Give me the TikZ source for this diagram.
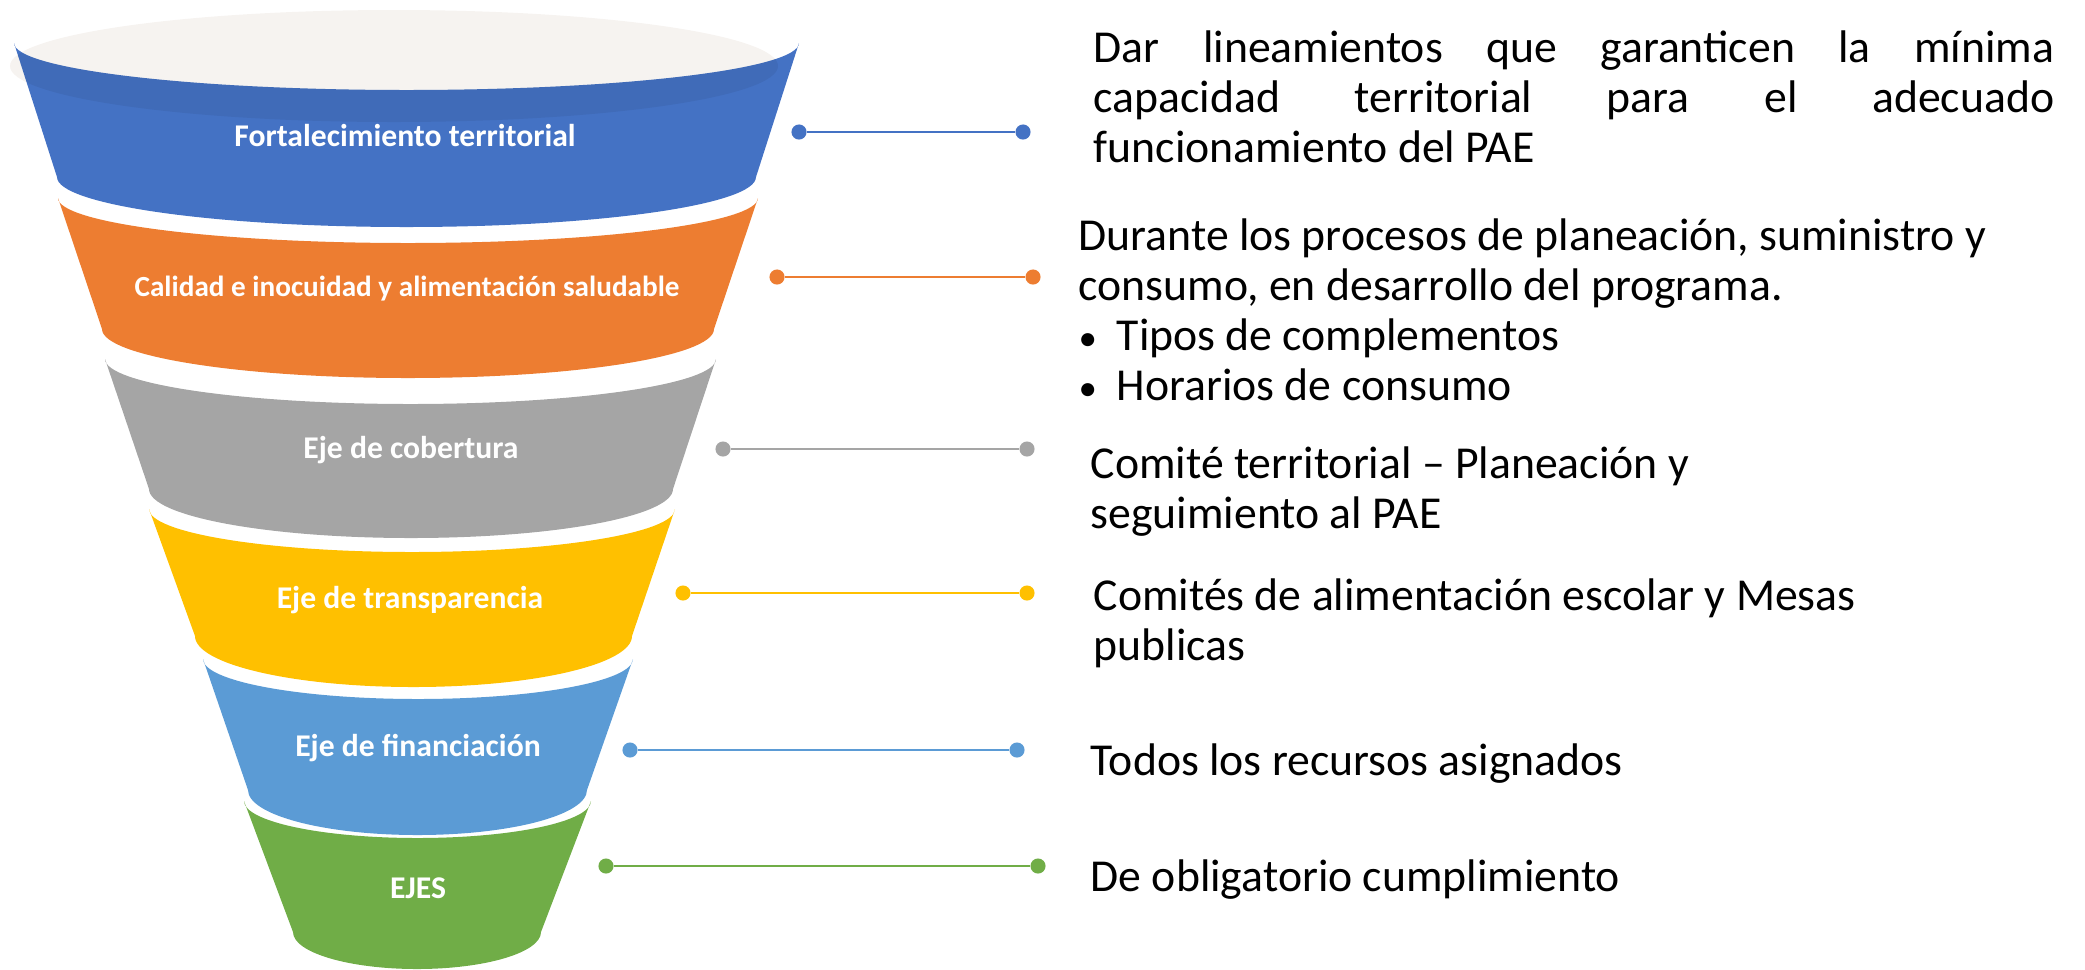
\documentclass[tikz,border=0pt]{standalone}
\usepackage{fontspec}
\setmainfont{Carlito}
\newfontfamily\notefont{Carlito}
\usepackage{tikz}
\definecolor{ejeazul}{HTML}{4472C4}
\definecolor{ejenaranja}{HTML}{ED7D31}
\definecolor{ejegris}{HTML}{A5A5A5}
\definecolor{ejeamarillo}{HTML}{FFC000}
\definecolor{ejecielo}{HTML}{5B9BD5}
\definecolor{ejeverde}{HTML}{70AD47}
\definecolor{ejecrema}{HTML}{F6F3F0}
\newcommand{\notebullet}{\makebox[0.38cm][l]{\fontsize{10.5}{10}\selectfont •}}

\begin{document}
\begin{tikzpicture}[x=0.01cm,y=-0.01cm,
  band label/.style={text=white,font=\fontsize{9}{11}\selectfont\bfseries},
  enddot/.style={circle,fill=#1,inner sep=0pt,minimum size=4.3pt},
  link/.style={#1,line width=0.7pt},
  notetext/.style={anchor=north west,inner sep=0pt,align=left,font=\notefont\fontsize{13}{14.2}\selectfont}]
\useasboundingbox (0,0) rectangle (2085,969);
\fill [ejecrema] (394,66) ellipse [x radius=384, y radius=56];
\fill [ejeazul] (14,43) -- (57,177) arc [start angle=180, end angle=0, x radius=349.5, y radius=50] -- (799,43) arc [start angle=0, end angle=180, x radius=392.5, y radius=47] -- cycle;
\begin{scope}
\clip (394,66) ellipse [x radius=384, y radius=56];
\fill [black, opacity=0.06] (14,43) -- (57,177) arc [start angle=180, end angle=0, x radius=349.5, y radius=50] -- (799,43) arc [start angle=0, end angle=180, x radius=392.5, y radius=47] -- cycle;
\end{scope}
\fill [ejenaranja] (58,198) -- (102,329) arc [start angle=180, end angle=0, x radius=306, y radius=49] -- (758,198) arc [start angle=0, end angle=180, x radius=350, y radius=45] -- cycle;
\fill [ejegris] (105,359) -- (149,489) arc [start angle=180, end angle=0, x radius=262, y radius=49] -- (716,359) arc [start angle=0, end angle=180, x radius=305.5, y radius=45] -- cycle;
\fill [ejeamarillo] (149,509) -- (195,636) arc [start angle=180, end angle=0, x radius=218.5, y radius=51] -- (675,509) arc [start angle=0, end angle=180, x radius=263, y radius=43] -- cycle;
\fill [ejecielo] (203,659) -- (248,790) arc [start angle=180, end angle=0, x radius=169.5, y radius=45] -- (633,659) arc [start angle=0, end angle=180, x radius=215, y radius=40] -- cycle;
\fill [ejeverde] (244,801) -- (293,932) arc [start angle=180, end angle=0, x radius=124, y radius=37] -- (591,801) arc [start angle=0, end angle=180, x radius=173.5, y radius=37] -- cycle;
\node [band label] (fortalecimiento) at (405,136) {Fortalecimiento territorial};
\node [band label, font=\fontsize{8.3}{10}\selectfont\bfseries] (calidad) at (407,289) {Calidad e inocuidad y alimentación saludable};
\node [band label] (cobertura) at (411,450) {Eje de cobertura};
\node [band label] (transparencia) at (410,600) {Eje de transparencia};
\node [band label] (financiacion) at (418,748) {Eje de financiación};
\node [band label] (ejes) at (418,888) {EJES};
\node [enddot=ejeazul] (a1) at (799,132) {};
\node [enddot=ejeazul] (b1) at (1023,132) {};
\draw [link=ejeazul] (a1) -- (b1);
\node [enddot=ejenaranja] (a2) at (777,277) {};
\node [enddot=ejenaranja] (b2) at (1033,277) {};
\draw [link=ejenaranja] (a2) -- (b2);
\node [enddot=ejegris] (a3) at (723,449) {};
\node [enddot=ejegris] (b3) at (1027,449) {};
\draw [link=ejegris] (a3) -- (b3);
\node [enddot=ejeamarillo] (a4) at (683,593) {};
\node [enddot=ejeamarillo] (b4) at (1027,593) {};
\draw [link=ejeamarillo] (a4) -- (b4);
\node [enddot=ejecielo] (a5) at (630,750) {};
\node [enddot=ejecielo] (b5) at (1017,750) {};
\draw [link=ejecielo] (a5) -- (b5);
\node [enddot=ejeverde] (a6) at (606,866) {};
\node [enddot=ejeverde] (b6) at (1038,866) {};
\draw [link=ejeverde] (a6) -- (b6);
\node [notetext] (lineamientos) at (1093,30) {\makebox[9.6cm][s]{Dar lineamientos que garanticen la mínima}\\ \makebox[9.6cm][s]{capacidad territorial para el adecuado}\\ funcionamiento del PAE};
\node [notetext] (procesos) at (1078,218) {Durante los procesos de planeación, suministro y\\ consumo, en desarrollo del programa.\\ \notebullet Tipos de complementos\\ \notebullet Horarios de consumo};
\node [notetext] (comite) at (1090,446) {Comité territorial – Planeación y\\ seguimiento al PAE};
\node [notetext] (comites) at (1093,578) {Comités de alimentación escolar y Mesas\\ publicas};
\node [notetext] (recursos) at (1090,743) {Todos los recursos asignados};
\node [notetext] (obligatorio) at (1090,859) {De obligatorio cumplimiento};
\end{tikzpicture}
\end{document}
